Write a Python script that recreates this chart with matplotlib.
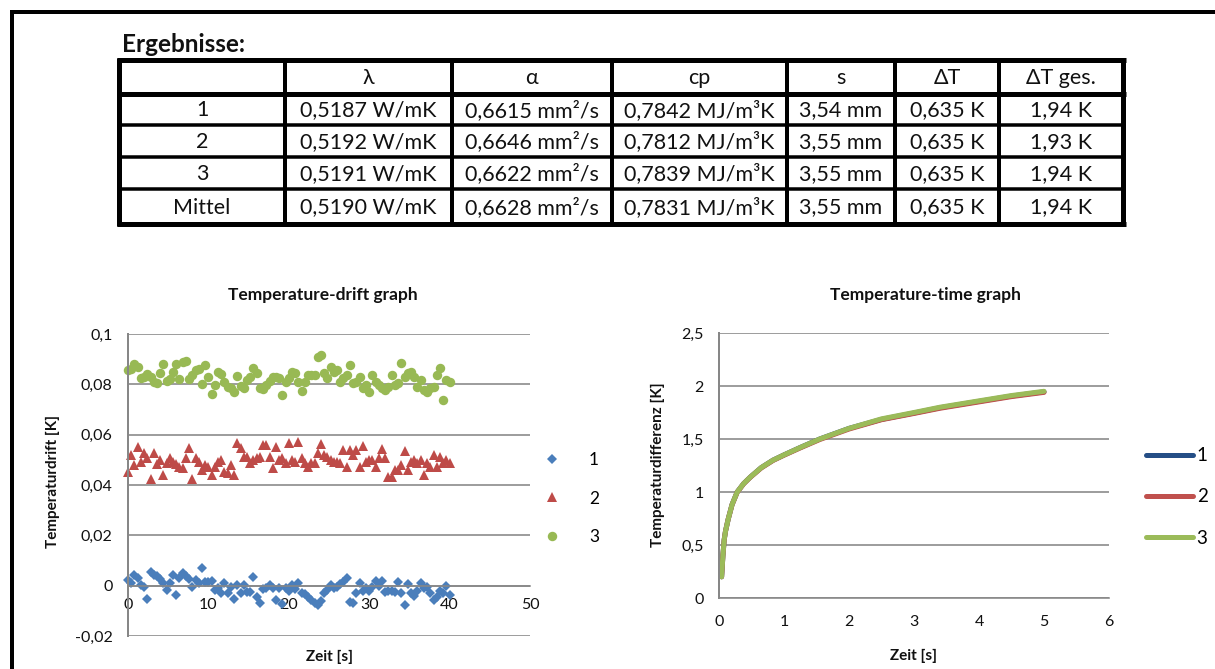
import matplotlib
matplotlib.use('Agg')
import matplotlib.pyplot as plt
from matplotlib.ticker import FuncFormatter

plt.rcParams['font.family'] = ['Lato', 'DejaVu Sans']

W, H = 1215, 669

# ---------------- table data ----------------
table_title = 'Ergebnisse:'
table_header = ['', 'λ', 'α', 'cp', 's', 'ΔT', 'ΔT ges.']
row_labels = ['1', '2', '3', 'Mittel']
lambda_vals = ['0,5187 W/mK', '0,5192 W/mK', '0,5191 W/mK', '0,5190 W/mK']
alpha_vals = ['0,6615 mm²/s', '0,6646 mm²/s', '0,6622 mm²/s', '0,6628 mm²/s']
cp_vals = ['0,7842 MJ/m³K', '0,7812 MJ/m³K', '0,7839 MJ/m³K', '0,7831 MJ/m³K']
s_vals = ['3,54 mm', '3,55 mm', '3,55 mm', '3,55 mm']
dT_vals = ['0,635 K', '0,635 K', '0,635 K', '0,635 K']
dT_total_vals = ['1,94 K', '1,93 K', '1,94 K', '1,94 K']

# ---------------- drift graph data ----------------
drift_title = 'Temperature-drift graph'
drift_time = [0.0, 0.4, 0.8, 1.2, 1.6, 2.0, 2.4, 2.8, 3.2, 3.6,
              4.0, 4.4, 4.8, 5.2, 5.6, 6.0, 6.4, 6.8, 7.2, 7.6,
              8.0, 8.4, 8.8, 9.2, 9.6, 10.0, 10.4, 10.8, 11.2, 11.6,
              12.0, 12.4, 12.8, 13.2, 13.6, 14.0, 14.4, 14.8, 15.2, 15.6,
              16.0, 16.4, 16.8, 17.2, 17.6, 18.0, 18.4, 18.8, 19.2, 19.6,
              20.0, 20.4, 20.8, 21.2, 21.6, 22.0, 22.4, 22.8, 23.2, 23.6,
              24.0, 24.4, 24.8, 25.2, 25.6, 26.0, 26.4, 26.8, 27.2, 27.6,
              28.0, 28.4, 28.8, 29.2, 29.6, 30.0, 30.4, 30.8, 31.2, 31.6,
              32.0, 32.4, 32.8, 33.2, 33.6, 34.0, 34.4, 34.8, 35.2, 35.6,
              36.0, 36.4, 36.8, 37.2, 37.6, 38.0, 38.4, 38.8, 39.2, 39.6, 40.0]
drift_1 = [0.0023, 0.0010, 0.0043, 0.0030, 0.0003, -0.0004, -0.0054, 0.0056, 0.0043, 0.0038,
           0.0025, 0.0010, -0.0017, 0.0012, 0.0043, -0.0037, 0.0030, 0.0050, 0.0039, 0.0025,
           -0.0004, 0.0023, 0.0012, 0.0069, 0.0016, 0.0016, 0.0020, -0.0017, -0.0008, -0.0030,
           0.0010, -0.0030, -0.0004, -0.0054, 0.0003, -0.0030, 0.0003, -0.0024, -0.0024, 0.0033,
           -0.0044, -0.0068, -0.0014, -0.0010, 0.0003, -0.0010, -0.0057, -0.0010, -0.0073, -0.0008,
           -0.0020, 0.0003, -0.0015, 0.0010, -0.0028, -0.0035, -0.0045, -0.0057, -0.0070, -0.0077,
           -0.0060, -0.0030, -0.0017, 0.0003, -0.0010, -0.0005, 0.0005, 0.0016, 0.0030, -0.0064,
           -0.0070, -0.0030, 0.0010, -0.0020, -0.0010, -0.0020, -0.0005, 0.0020, -0.0003, 0.0020,
           -0.0025, -0.0020, -0.0020, -0.0025, 0.0016, -0.0030, -0.0077, 0.0005, -0.0030, -0.0040,
           -0.0020, 0.0010, -0.0010, -0.0005, -0.0030, -0.0057, -0.0045, -0.0020, -0.0030, -0.0001, -0.0037]
drift_2 = [0.0453, 0.0519, 0.0480, 0.0552, 0.0493, 0.0526, 0.0506, 0.0422, 0.0526, 0.0483,
           0.0500, 0.0440, 0.0486, 0.0506, 0.0493, 0.0483, 0.0473, 0.0466, 0.0506, 0.0546,
           0.0422, 0.0506, 0.0493, 0.0460, 0.0480, 0.0473, 0.0440, 0.0473, 0.0493, 0.0500,
           0.0450, 0.0446, 0.0480, 0.0440, 0.0566, 0.0546, 0.0513, 0.0513, 0.0486, 0.0500,
           0.0506, 0.0513, 0.0559, 0.0559, 0.0513, 0.0466, 0.0552, 0.0500, 0.0506, 0.0486,
           0.0566, 0.0500, 0.0493, 0.0572, 0.0506, 0.0486, 0.0473, 0.0486, 0.0486, 0.0526,
           0.0563, 0.0519, 0.0513, 0.0500, 0.0493, 0.0493, 0.0486, 0.0539, 0.0473, 0.0539,
           0.0519, 0.0539, 0.0473, 0.0555, 0.0493, 0.0500, 0.0500, 0.0473, 0.0506, 0.0542,
           0.0506, 0.0430, 0.0433, 0.0460, 0.0460, 0.0480, 0.0535, 0.0460, 0.0493, 0.0500,
           0.0486, 0.0500, 0.0440, 0.0486, 0.0473, 0.0519, 0.0473, 0.0513, 0.0486, 0.0500, 0.0486]
drift_3 = [0.0855, 0.0860, 0.0880, 0.0870, 0.0824, 0.0830, 0.0840, 0.0830, 0.0810, 0.0807,
           0.0847, 0.0881, 0.0815, 0.0820, 0.0850, 0.0880, 0.0820, 0.0890, 0.0893, 0.0820,
           0.0838, 0.0855, 0.0860, 0.0800, 0.0877, 0.0828, 0.0762, 0.0798, 0.0850, 0.0840,
           0.0810, 0.0790, 0.0784, 0.0770, 0.0833, 0.0795, 0.0784, 0.0818, 0.0830, 0.0864,
           0.0844, 0.0784, 0.0780, 0.0798, 0.0815, 0.0830, 0.0830, 0.0824, 0.0756, 0.0810,
           0.0824, 0.0850, 0.0844, 0.0810, 0.0774, 0.0810, 0.0838, 0.0838, 0.0838, 0.0910,
           0.0917, 0.0844, 0.0824, 0.0870, 0.0850, 0.0857, 0.0810, 0.0824, 0.0838, 0.0877,
           0.0804, 0.0810, 0.0830, 0.0784, 0.0798, 0.0770, 0.0838, 0.0810, 0.0798, 0.0784,
           0.0778, 0.0790, 0.0838, 0.0798, 0.0804, 0.0884, 0.0830, 0.0844, 0.0850, 0.0830,
           0.0790, 0.0818, 0.0778, 0.0770, 0.0784, 0.0790, 0.0838, 0.0864, 0.0738, 0.0818, 0.0810]
drift_xticks = [0, 10, 20, 30, 40, 50]
drift_yticks = [-0.02, 0, 0.02, 0.04, 0.06, 0.08, 0.1]

# ---------------- temperature-time data ----------------
time_title = 'Temperature-time graph'
time_s = [0.04, 0.06, 0.08, 0.10, 0.14, 0.20, 0.28, 0.38, 0.48, 0.65, 0.83,
          1.0, 1.25, 1.55, 2.0, 2.5, 3.0, 3.4, 4.0, 4.5, 5.0]
temp_1 = [0.20, 0.40, 0.55, 0.63, 0.74, 0.88, 1.00, 1.08, 1.14, 1.23, 1.30,
          1.35, 1.42, 1.50, 1.60, 1.685, 1.745, 1.795, 1.855, 1.905, 1.945]
temp_2 = [0.20, 0.40, 0.55, 0.63, 0.74, 0.878, 0.998, 1.078, 1.138, 1.227, 1.297,
          1.347, 1.416, 1.495, 1.594, 1.682, 1.741, 1.79, 1.85, 1.9, 1.94]
temp_3 = [0.20, 0.40, 0.55, 0.63, 0.74, 0.88, 1.00, 1.08, 1.14, 1.23, 1.30,
          1.35, 1.42, 1.50, 1.60, 1.69, 1.75, 1.80, 1.86, 1.91, 1.95]
time_xticks = [0, 1, 2, 3, 4, 5, 6]
time_yticks = [0, 0.5, 1, 1.5, 2, 2.5]

series_labels = ['1', '2', '3']
scatter_colors = ['#4A7EBB', '#BE4B48', '#98B954']
line_colors = ['#254E86', '#C0504D', '#9BBB59']

GRID = '#878787'
TXT = '#111111'


def de_fmt(v, pos=None):
    s = '%g' % v
    return s.replace('.', ',')


def frac_rect(x0, y0, x1, y1):
    return [x0 / W, 1 - y1 / H, (x1 - x0) / W, (y1 - y0) / H]


fig = plt.figure(figsize=(W / 100, H / 100), dpi=100)
fig.patch.set_facecolor('white')

# overlay in pixel coordinates for document decorations
ov = fig.add_axes([0, 0, 1, 1], zorder=0)
ov.set_xlim(0, W)
ov.set_ylim(H, 0)
ov.axis('off')

pt = 0.72  # points per pixel at 100 dpi

# document frame (top + left)
ov.plot([10, W], [12, 12], color='black', lw=4 * pt, solid_capstyle='butt')
ov.plot([12, 12], [10, H], color='black', lw=4 * pt, solid_capstyle='butt')

# table
ov.text(122, 44, table_title, fontsize=17.5, fontweight='bold', ha='left', va='center', color=TXT)
col_edges = [119, 285, 452, 612, 787, 895, 999, 1123]
row_edges = [60, 94, 125, 157, 189, 224]
for i, x in enumerate(col_edges):
    lw = 5 if i in (0, len(col_edges) - 1) else 4
    ov.plot([x, x], [row_edges[0] - 2, row_edges[-1] + 2], color='black', lw=lw * pt, solid_capstyle='butt')
for j, y in enumerate(row_edges):
    lw = 5 if j in (0, 1, len(row_edges) - 1) else 3.5
    ov.plot([col_edges[0] - 2.5, col_edges[-1] + 2.5], [y, y], color='black', lw=lw * pt, solid_capstyle='butt')

columns = [row_labels, lambda_vals, alpha_vals, cp_vals, s_vals, dT_vals, dT_total_vals]
for c in range(len(columns)):
    xc = (col_edges[c] + col_edges[c + 1]) / 2
    ov.text(xc, (row_edges[0] + row_edges[1]) / 2 + 1, table_header[c], fontsize=15.5,
            ha='center', va='center', color=TXT)
    for r, val in enumerate(columns[c]):
        yc = (row_edges[r + 1] + row_edges[r + 2]) / 2 + 1
        ov.text(xc, yc, val, fontsize=15.5, ha='center', va='center', color=TXT)

# chart titles
ov.text(323, 295, drift_title, fontsize=12.5, fontweight='bold', ha='center', va='center', color=TXT)
ov.text(925, 295, time_title, fontsize=12.5, fontweight='bold', ha='center', va='center', color=TXT)

# ---------------- left chart ----------------
ax1 = fig.add_axes(frac_rect(128, 334, 530, 636), zorder=2)
ax1.patch.set_alpha(0)
ax1.set_xlim(0, 50)
ax1.set_ylim(-0.02, 0.1)
ax1.set_xticks(drift_xticks)
ax1.set_yticks(drift_yticks)
ax1.xaxis.set_major_formatter(FuncFormatter(de_fmt))
ax1.yaxis.set_major_formatter(FuncFormatter(de_fmt))
ax1.grid(axis='y', color=GRID, lw=1.6 * pt)
ax1.set_axisbelow(True)
for side in ('top', 'right'):
    ax1.spines[side].set_visible(False)
ax1.spines['bottom'].set_position(('data', 0))
ax1.spines['bottom'].set_color(GRID)
ax1.spines['bottom'].set_linewidth(1.6 * pt)
ax1.spines['left'].set_color(GRID)
ax1.spines['left'].set_linewidth(2 * pt)
ax1.tick_params(axis='both', length=0, labelsize=11.5, colors=TXT)
ax1.tick_params(axis='y', pad=11)
ax1.tick_params(axis='x', pad=9)

markers = ['D', '^', 'o']
msizes = [5.6, 6.8, 6.8]
for vals, col, mk, ms, lab in zip([drift_1, drift_2, drift_3], scatter_colors, markers, msizes, series_labels):
    ax1.plot(drift_time, vals, linestyle='none', marker=mk, markersize=ms,
             color=col, markeredgewidth=0, label=lab, clip_on=False)

ax1.set_xlabel('Zeit [s]', fontsize=11, fontweight='bold', color=TXT)
ax1.xaxis.set_label_coords((330 - 128) / 402, (636 - 650) / 302)
ax1.set_ylabel('Temperaturdrift [K]', fontsize=11, fontweight='bold', color=TXT)
ax1.yaxis.set_label_coords((60 - 128) / 402, (636 - 482) / 302)

fs_leg = 12.5
ax1.legend(loc='center left', bbox_to_anchor=((553 - 17) / W, 1 - 498.5 / H),
           bbox_transform=fig.transFigure, frameon=False, fontsize=fs_leg,
           handlelength=1.9, handletextpad=1.15, labelspacing=1.3, borderpad=0,
           borderaxespad=0, markerscale=1.0)

# ---------------- right chart ----------------
ax2 = fig.add_axes(frac_rect(719, 333, 1109, 598), zorder=2)
ax2.patch.set_alpha(0)
ax2.set_xlim(0, 6)
ax2.set_ylim(0, 2.5)
ax2.set_xticks(time_xticks)
ax2.set_yticks(time_yticks)
ax2.xaxis.set_major_formatter(FuncFormatter(de_fmt))
ax2.yaxis.set_major_formatter(FuncFormatter(de_fmt))
ax2.grid(axis='y', color=GRID, lw=1.6 * pt)
ax2.set_axisbelow(True)
for side in ('top', 'right'):
    ax2.spines[side].set_visible(False)
ax2.spines['bottom'].set_color(GRID)
ax2.spines['bottom'].set_linewidth(1.6 * pt)
ax2.spines['left'].set_color(GRID)
ax2.spines['left'].set_linewidth(2 * pt)
ax2.tick_params(axis='both', length=0, labelsize=11.5, colors=TXT)
ax2.tick_params(axis='y', pad=11)
ax2.tick_params(axis='x', pad=12)

for vals, col, lab in zip([temp_1, temp_2, temp_3], line_colors, series_labels):
    ax2.plot(time_s, vals, color=col, lw=5 * pt, label=lab, solid_capstyle='round',
             solid_joinstyle='round')

ax2.set_xlabel('Zeit [s]', fontsize=11, fontweight='bold', color=TXT)
ax2.xaxis.set_label_coords((913 - 719) / 390, (598 - 649) / 265)
ax2.set_ylabel('Temperaturdifferenz [K]', fontsize=11, fontweight='bold', color=TXT)
ax2.yaxis.set_label_coords((665 - 719) / 390, (598 - 465) / 265)

ax2.legend(loc='center left', bbox_to_anchor=(1146 / W, 1 - 497 / H),
           bbox_transform=fig.transFigure, frameon=False, fontsize=13.5,
           handlelength=2.5, handletextpad=0.2, labelspacing=1.3, borderpad=0,
           borderaxespad=0)

fig.savefig('out.png', dpi=100, facecolor='white')
